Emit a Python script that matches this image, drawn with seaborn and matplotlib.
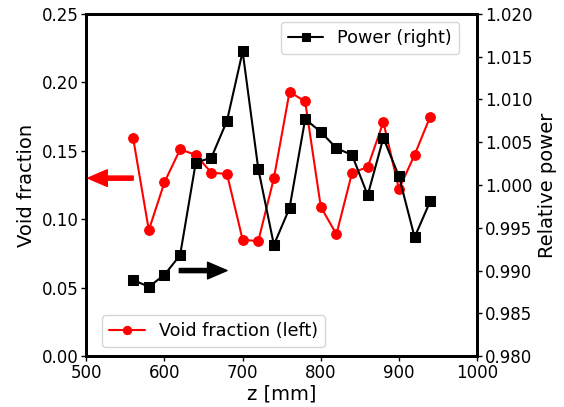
import numpy as np
import pandas as pd
import matplotlib
matplotlib.use("Agg")
import matplotlib.pyplot as plt
import seaborn as sns

# axial positions [mm]
z_mm = [560, 580, 600, 620, 640, 660, 680, 700, 720, 740,
        760, 780, 800, 820, 840, 860, 880, 900, 920, 940]

# void fraction (left axis)
void_frac = [0.159, 0.092, 0.127, 0.151, 0.147, 0.134, 0.133, 0.085, 0.084, 0.130,
             0.193, 0.186, 0.109, 0.089, 0.134, 0.138, 0.171, 0.122, 0.147, 0.175]

# relative power (right axis)
rel_power = [0.9889, 0.9881, 0.9895, 0.9918, 1.0026, 1.0032, 1.0075, 1.0156, 1.0019, 0.9930,
             0.9973, 1.0077, 1.0062, 1.0043, 1.0035, 0.9988, 1.0055, 1.0010, 0.9939, 0.9981]

df = pd.DataFrame({"z": z_mm, "void": void_frac, "power": rel_power})

sns.set_style("ticks", {"text.color": "black", "axes.labelcolor": "black",
                        "xtick.color": "black", "ytick.color": "black",
                        "axes.edgecolor": "black"})
plt.rcParams["font.family"] = ["DejaVu Sans"]

fig, ax = plt.subplots(figsize=(5.64, 4.07), dpi=100)
ax2 = ax.twinx()

sns.lineplot(data=df, x="z", y="void", ax=ax, color="red", marker="o",
             markersize=7, markeredgecolor="red", linewidth=1.5,
             label="Void fraction (left)")
sns.lineplot(data=df, x="z", y="power", ax=ax2, color="black", marker="s",
             markersize=7, markeredgecolor="black", linewidth=1.5,
             label="Power (right)")

ax.set_xlim(500, 1000)
ax.set_ylim(0, 0.25)
ax2.set_ylim(0.98, 1.02)
ax.set_xticks([500, 600, 700, 800, 900, 1000])
ax.set_yticks([0.0, 0.05, 0.10, 0.15, 0.20, 0.25])
ax2.set_yticks(np.arange(0.98, 1.0201, 0.005))
ax.yaxis.set_major_formatter(matplotlib.ticker.FormatStrFormatter("%.2f"))
ax2.yaxis.set_major_formatter(matplotlib.ticker.FormatStrFormatter("%.3f"))

ax.set_xlabel("z [mm]", fontsize=14, labelpad=2)
ax.set_ylabel("Void fraction", fontsize=14)
ax2.set_ylabel("Relative power", fontsize=14)
ax.tick_params(labelsize=12, width=1, length=3.5, pad=2)
ax2.tick_params(labelsize=12, width=1, length=3.5, pad=2)

for a in (ax, ax2):
    for s in a.spines.values():
        s.set_linewidth(2)

# arrows pointing to the matching axis
ax.annotate("", xy=(502, 0.13), xytext=(560, 0.13),
            arrowprops=dict(color="red", width=3, headwidth=12, headlength=14))
ax2.annotate("", xy=(680, 0.990), xytext=(619, 0.990),
             arrowprops=dict(color="black", width=3, headwidth=12, headlength=14))

ax.legend(loc="lower left", fontsize=12.7, bbox_to_anchor=(0.041, 0.026),
          borderaxespad=0, markerscale=0.85)
ax2.legend(loc="upper right", fontsize=12.7, bbox_to_anchor=(0.954, 0.977),
           borderaxespad=0, markerscale=0.85)

fig.subplots_adjust(left=0.153, right=0.846, top=0.966, bottom=0.125)
fig.savefig("out.png", dpi=100)
